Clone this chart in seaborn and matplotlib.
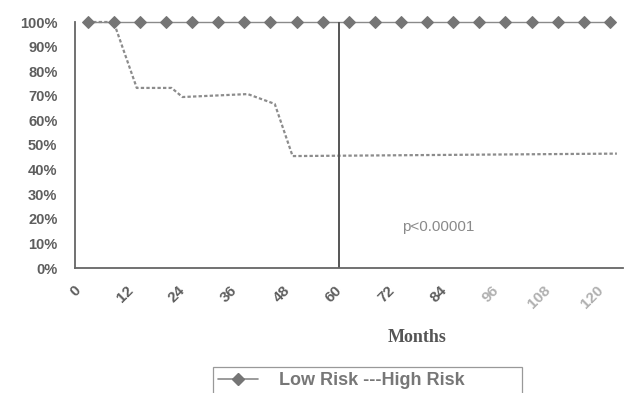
import matplotlib
matplotlib.use("Agg")
import matplotlib.pyplot as plt
import matplotlib.transforms as mtransforms
from matplotlib.patches import Rectangle
from matplotlib.lines import Line2D
import seaborn as sns

# ---- data ----
low_months = [0, 6, 12, 18, 24, 30, 36, 42, 48, 54, 60, 66, 72, 78, 84, 90, 96, 102, 108, 114, 120]
low_risk = [100, 100, 100, 100, 100, 100, 100, 100, 100, 100, 100,
            100, 100, 100, 100, 100, 100, 100, 100, 100, 100]
high_months = [0, 6, 11.3, 19.3, 21.8, 36.8, 43, 47.1, 121.6]
high_risk = [100, 100, 73.2, 73.2, 69.5, 70.7, 66.7, 45.5, 46.5]
x_label_months = [0, 12, 24, 36, 48, 60, 72, 84, 96, 108, 120]
x_tick_labels = ["0", "12", "24", "36", "48", "60", "72", "84", "96", "108", "120"]
x_label_colors = ["#5e5e5e"] * 8 + ["#b0b0b0"] * 3
x_minor_ticks = [-3, 3, 9, 15, 21, 27, 33, 39, 45, 51, 57, 63, 69, 75, 81, 87, 93, 99, 105, 111, 117, 123]
y_ticks = [0, 10, 20, 30, 40, 50, 60, 70, 80, 90, 100]
cutoff_month = 57.7
p_text = "p<0.00001"
p_pos = (80.5, 16.7)

sns.set_theme(style="white")
plt.rcParams['font.family'] = ['Liberation Sans', 'DejaVu Sans']

W, H = 631, 393
fig = plt.figure(figsize=(W / 100, H / 100), dpi=100)
ax = fig.add_axes([74.5 / W, 1 - 268 / H, (623 - 74.5) / W, (268 - 22) / H])

sns.lineplot(x=high_months, y=high_risk, ax=ax, color="#8c8c8c", linewidth=1.6,
             linestyle=(0, (1.5, 1.0)), estimator=None)
sns.lineplot(x=low_months, y=low_risk, ax=ax, color="#8a8a8a", linewidth=1.0,
             marker="D", markersize=5.9, markerfacecolor="#757575",
             markeredgecolor="#757575", estimator=None)
for ln in ax.get_lines():
    ln.set_clip_on(False)

ax.axvline(cutoff_month, color="#555555", lw=1.4)

ax.set_xlim(-3, 123)
ax.set_ylim(0, 100)

for s in ["top", "right"]:
    ax.spines[s].set_visible(False)
for s in ["left", "bottom"]:
    ax.spines[s].set_color("#666666")
    ax.spines[s].set_linewidth(1.3)

ax.set_yticks(y_ticks)
ax.set_yticklabels([f"{v}%" for v in y_ticks])
ax.tick_params(axis="y", direction="out", length=4.3, width=1.1, color="#666666",
               pad=8, labelsize=10.5, labelcolor="#5e5e5e")
for lbl in ax.get_yticklabels():
    lbl.set_fontweight("bold")

ax.set_xticks(x_label_months)
ax.set_xticklabels(x_tick_labels)
ax.set_xticks(x_minor_ticks, minor=True)
ax.tick_params(axis="x", which="major", length=0, pad=14.4, labelsize=11)
ax.tick_params(axis="x", which="minor", direction="out", length=3.6, width=1.0,
               color="#666666")
off = mtransforms.ScaledTranslation(-9 / 100, 0, fig.dpi_scale_trans)
for lbl, c in zip(ax.get_xticklabels(), x_label_colors):
    lbl.set_rotation(45)
    lbl.set_ha("right")
    lbl.set_va("center")
    lbl.set_rotation_mode("anchor")
    lbl.set_fontweight("bold")
    lbl.set_color(c)
    lbl.set_transform(lbl.get_transform() + off)

ax.set_xlabel("Months", family="Liberation Serif", weight="bold", size=13,
              color="#555555", va="center")
ax.xaxis.set_label_coords((417 - 74.5) / (623 - 74.5), (268 - 338) / (268 - 22))

ax.text(p_pos[0], p_pos[1], p_text, ha="center", va="center", fontsize=11,
        color="#8a8a8a")

handle = Line2D([], [], color="#8a8a8a", lw=1.2, marker="D", markersize=5.9,
                markerfacecolor="#757575", markeredgecolor="#757575")
fig.legend([handle], ["Low Risk ---High Risk"], loc="upper left",
           bbox_to_anchor=(213 / W, 1 - 367 / H), frameon=False,
           prop=dict(family="Liberation Sans", weight="bold", size=13),
           handlelength=2.2, handletextpad=1.15, borderpad=0.3, borderaxespad=0,
           labelcolor="#777777")
fig.add_artist(Rectangle((213 / W, -0.1), (522 - 213) / W, (1 - 367 / H) + 0.1,
                         transform=fig.transFigure, fill=False, ec="#999999", lw=0.9))

fig.savefig("out.png", dpi=100)
